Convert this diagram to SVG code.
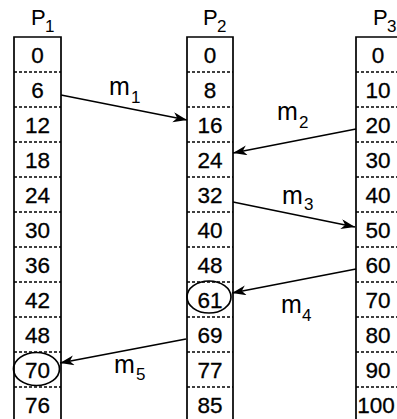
<svg xmlns="http://www.w3.org/2000/svg" width="397" height="419" viewBox="0 0 397 419">
<defs>
<style>
.col{fill:none;stroke:#000;stroke-width:1.7}
.sep{stroke:#000;stroke-width:1.4;stroke-dasharray:3 2}
.num{font-family:"Liberation Sans",Arial,sans-serif;font-size:22.5px;fill:#000;text-anchor:middle;stroke:#000;stroke-width:0.3}
.lbl{font-family:"Liberation Sans",Arial,sans-serif;font-size:22px;fill:#000}
.m{font-family:"Liberation Sans",Arial,sans-serif;font-size:25px;fill:#000}
.sub{font-family:"Liberation Sans",Arial,sans-serif;font-size:17px;fill:#000}
.msg{stroke:#000;stroke-width:1.7;fill:none;marker-end:url(#ah)}
.ring{fill:none;stroke:#000;stroke-width:1.7}
</style>
<marker id="ah" markerUnits="userSpaceOnUse" markerWidth="16" markerHeight="12" refX="14" refY="5" orient="auto">
<path d="M0,0 L14,5 L0,10 L4,5 Z" fill="#000"/>
</marker>
</defs>
<rect width="397" height="419" fill="#fff"/>

<g id="P1">
<text class="lbl" x="31" y="25">P</text><text class="sub" x="45" y="32">1</text>
<path class="col" d="M14,419 V37 H61 V419"/>
<g class="sep">
<line x1="14" y1="72" x2="61" y2="72"/><line x1="14" y1="107" x2="61" y2="107"/>
<line x1="14" y1="142" x2="61" y2="142"/><line x1="14" y1="177" x2="61" y2="177"/>
<line x1="14" y1="212" x2="61" y2="212"/><line x1="14" y1="247" x2="61" y2="247"/>
<line x1="14" y1="282" x2="61" y2="282"/><line x1="14" y1="317" x2="61" y2="317"/>
<line x1="14" y1="352" x2="61" y2="352"/><line x1="14" y1="387" x2="61" y2="387"/>
</g>
<g class="num">
<text x="37.5" y="62.5">0</text><text x="37.5" y="97.5">6</text><text x="37.5" y="132.5">12</text>
<text x="37.5" y="167.5">18</text><text x="37.5" y="202.5">24</text><text x="37.5" y="237.5">30</text>
<text x="37.5" y="272.5">36</text><text x="37.5" y="307.5">42</text><text x="37.5" y="342.5">48</text>
<text x="37.5" y="377.5">70</text><text x="37.5" y="412.5">76</text>
</g>
<ellipse class="ring" cx="36.5" cy="369" rx="23" ry="16.5"/>
</g>

<g id="P2">
<text class="lbl" x="203" y="25">P</text><text class="sub" x="217" y="32">2</text>
<path class="col" d="M187,419 V37 H233 V419"/>
<g class="sep">
<line x1="187" y1="72" x2="233" y2="72"/><line x1="187" y1="107" x2="233" y2="107"/>
<line x1="187" y1="142" x2="233" y2="142"/><line x1="187" y1="177" x2="233" y2="177"/>
<line x1="187" y1="212" x2="233" y2="212"/><line x1="187" y1="247" x2="233" y2="247"/>
<line x1="187" y1="282" x2="233" y2="282"/><line x1="187" y1="317" x2="233" y2="317"/>
<line x1="187" y1="352" x2="233" y2="352"/><line x1="187" y1="387" x2="233" y2="387"/>
</g>
<g class="num">
<text x="210" y="62.5">0</text><text x="210" y="97.5">8</text><text x="210" y="132.5">16</text>
<text x="210" y="167.5">24</text><text x="210" y="202.5">32</text><text x="210" y="237.5">40</text>
<text x="210" y="272.5">48</text><text x="210" y="307.5">61</text><text x="210" y="342.5">69</text>
<text x="210" y="377.5">77</text><text x="210" y="412.5">85</text>
</g>
<ellipse class="ring" cx="209" cy="297" rx="22" ry="16"/>
</g>

<g id="P3">
<text class="lbl" x="373" y="25">P</text><text class="sub" x="387" y="32">3</text>
<path class="col" d="M356,419 V37 H402"/>
<g class="sep">
<line x1="356" y1="72" x2="397" y2="72"/><line x1="356" y1="107" x2="397" y2="107"/>
<line x1="356" y1="142" x2="397" y2="142"/><line x1="356" y1="177" x2="397" y2="177"/>
<line x1="356" y1="212" x2="397" y2="212"/><line x1="356" y1="247" x2="397" y2="247"/>
<line x1="356" y1="282" x2="397" y2="282"/><line x1="356" y1="317" x2="397" y2="317"/>
<line x1="356" y1="352" x2="397" y2="352"/><line x1="356" y1="387" x2="397" y2="387"/>
</g>
<g class="num">
<text x="378" y="62.5">0</text><text x="378" y="97.5">10</text><text x="378" y="132.5">20</text>
<text x="378" y="167.5">30</text><text x="378" y="202.5">40</text><text x="378" y="237.5">50</text>
<text x="378" y="272.5">60</text><text x="378" y="307.5">70</text><text x="378" y="342.5">80</text>
<text x="378" y="377.5">90</text><text x="376" y="412.5">100</text>
</g>
</g>

<g id="connectors">
<line class="msg" x1="61" y1="95" x2="187" y2="120"/>
<line class="msg" x1="356" y1="129" x2="233" y2="153"/>
<line class="msg" x1="233" y1="202" x2="355" y2="227"/>
<line class="msg" x1="356" y1="269" x2="232" y2="293"/>
<line class="msg" x1="186" y1="339" x2="60" y2="363"/>
</g>

<g id="labels">
<text class="m" x="109" y="95">m</text><text class="sub" x="131" y="103">1</text>
<text class="m" x="277" y="120">m</text><text class="sub" x="299" y="128">2</text>
<text class="m" x="282" y="204">m</text><text class="sub" x="304" y="210">3</text>
<text class="m" x="281" y="313">m</text><text class="sub" x="302" y="321">4</text>
<text class="m" x="114" y="373">m</text><text class="sub" x="136" y="380">5</text>
</g>
</svg>
